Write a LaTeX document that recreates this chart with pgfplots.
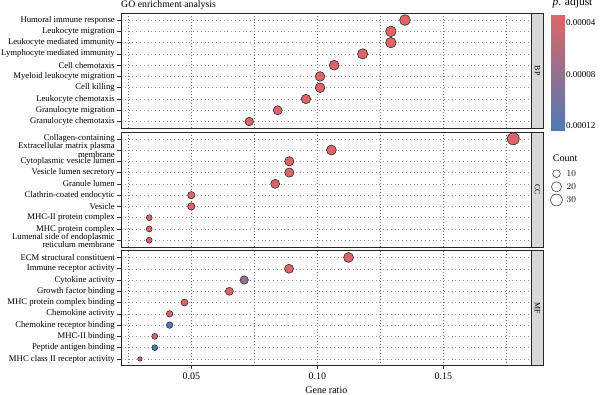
\documentclass[border=0pt]{standalone}
\usepackage{pgfplots}
\pgfplotsset{compat=1.18}
\usepackage{pgfplotstable}
\usepackage{fontspec}
\setmainfont{Liberation Serif}

\definecolor{stripfill}{RGB}{217,217,217}
\definecolor{gridgray}{RGB}{110,110,110}
\definecolor{gridlight}{RGB}{150,150,150}

% Gene ratio, gene count and adjusted p value of each GO term (row 1 is the top row)
\pgfplotstableread{
row ratio  count padj
1   0.1348 24    3.40e-5
2   0.1292 23    3.40e-5
3   0.1292 23    3.40e-5
4   0.1180 21    3.40e-5
5   0.1067 19    3.40e-5
6   0.1011 18    3.40e-5
7   0.1011 18    3.40e-5
8   0.0955 17    3.40e-5
9   0.0843 15    3.40e-5
10  0.0730 13    3.40e-5
}\bpdata

\pgfplotstableread{
row ratio  count padj
1   0.1778 32    3.40e-5
2   0.1056 19    3.40e-5
3   0.0889 16    3.40e-5
4   0.0889 16    3.40e-5
5   0.0833 15    3.40e-5
6   0.0500 9     3.40e-5
7   0.0500 9     3.40e-5
8   0.0333 6     3.40e-5
9   0.0333 6     3.40e-5
10  0.0333 6     3.40e-5
}\ccdata

\pgfplotstableread{
row ratio  count padj
1   0.1124 19    3.40e-5
2   0.0888 15    3.40e-5
3   0.0710 12    7.60e-5
4   0.0651 11    3.50e-5
5   0.0473 8     3.60e-5
6   0.0414 7     3.60e-5
7   0.0414 7     1.22e-4
8   0.0355 6     3.70e-5
9   0.0355 6     1.239e-4
10  0.0296 5     4.20e-5
}\mfdata

% Count legend keys
\pgfplotstableread{
x count
0 10
0 20
0 30
}\countkeys

\tikzset{strip/.style={fill=stripfill, draw=black!85, line width=0.8pt}}

\pgfplotsset{
  gopanel/.style={
    scale only axis, width=410.7pt, height=115pt,
    xmin=0.0221, xmax=0.1851, ymin=0.4, ymax=10.6, y dir=reverse,
    ytick={1,...,10},
    xtick={0.05,0.10,0.15},
    minor xtick={0.025,0.075,0.125,0.175},
    xmajorgrids, xminorgrids, ymajorgrids,
    x grid style={gridgray, line width=0.45pt, dash pattern=on 0.6pt off 2.4pt},
    y grid style={gridlight, line width=0.45pt, dash pattern=on 0.6pt off 3.2pt},
    minor tick length=0pt,
    tick align=outside, major tick length=3.5pt,
    xtick pos=bottom, ytick pos=left,
    tick style={black!80, line width=0.5pt},
    axis line style={black!85, line width=0.8pt},
    yticklabel style={font=\fontsize{8.7}{8.2}\selectfont, align=right, inner sep=0pt, xshift=-2.5pt},
    colormap={padj}{rgb255=(222,101,104) rgb255=(78,122,180)},
    point meta min=3.35e-5, point meta max=1.239e-4,
    clip=false,
  },
  nox/.style={xticklabels={}, xtick style={draw=none}},
  % marker radius grows with the square root of the gene count
  countsize/.style={
    visualization depends on={2.2+3.8*sqrt((\thisrow{count}-5)/27) \as \rad},
    scatter/@pre marker code/.append style={/tikz/mark size=\rad},
  },
  gopoints/.style={
    scatter, only marks, mark=*,
    scatter src=explicit,
    scatter/use mapped color={draw=black!85, fill=mapped color},
    countsize,
    mark options={line width=0.55pt},
  },
}

\begin{document}
\begin{tikzpicture}
\path (0,0) rectangle (600pt,-394pt);

\node[anchor=base west, inner sep=0pt, font=\fontsize{9.8}{11}\selectfont] at (121pt,-7.3pt) {GO enrichment analysis};

% Biological process
\begin{axis}[gopanel, nox, name=bp, at={(121pt,-13.3pt)}, anchor=north west,
  yticklabels={{Humoral immune response},{Leukocyte migration},{Leukocyte mediated immunity},{Lymphocyte mediated immunity},{Cell chemotaxis},{Myeloid leukocyte migration},{Cell killing},{Leukocyte chemotaxis},{Granulocyte migration},{Granulocyte chemotaxis}},
  colorbar,
  colorbar shift/.style={xshift=19.3pt, yshift=-1.2pt},
  colorbar style={
    at={(parent axis.north east)}, anchor=north west,
    scale only axis, width=14pt, height=116pt,
    y dir=reverse,
    scaled y ticks=false,
    ytick={4e-5,8e-5,12e-5},
    yticklabels={0.00004,0.00008,0.00012},
    yticklabel style={font=\fontsize{9}{10}\selectfont, inner sep=0pt, xshift=1pt},
    ytick style={draw=none},
    axis line style={draw=none},
  },
]
\addplot[gopoints] table[x=ratio, y=row, meta=padj] {\bpdata};
\end{axis}
\draw[strip] (bp.north east) rectangle ([xshift=11.6pt]bp.south east);
\node[rotate=-90, inner sep=0pt, font=\fontsize{8}{9}\selectfont] at ([xshift=5.8pt]bp.east) {BP};

% Cellular component
\begin{axis}[gopanel, nox, name=cc, at={(121pt,-132pt)}, anchor=north west,
  yticklabels={{Collagen-containing},{Extracellular matrix plasma\\membrane},{Cytoplasmic vesicle lumen},{Vesicle lumen secretory},{Granule lumen},{Clathrin-coated endocytic},{Vesicle},{MHC-II protein complex},{MHC protein complex},{Lumenal side of endoplasmic\\reticulum membrane}},
]
\addplot[gopoints] table[x=ratio, y=row, meta=padj] {\ccdata};
\end{axis}
\draw[strip] (cc.north east) rectangle ([xshift=11.6pt]cc.south east);
\node[rotate=-90, inner sep=0pt, font=\fontsize{8}{9}\selectfont] at ([xshift=5.8pt]cc.east) {CC};

% Molecular function
\begin{axis}[gopanel, name=mf, at={(121pt,-250.7pt)}, anchor=north west,
  yticklabels={{ECM structural constituent},{Immune receptor activity},{Cytokine activity},{Growth factor binding},{MHC protein complex binding},{Chemokine activity},{Chemokine receptor binding},{MHC-II binding},{Peptide antigen binding},{MHC class II receptor activity}},
  xticklabels={0.05,0.10,0.15},
  xticklabel style={font=\fontsize{10}{12}\selectfont, inner sep=0pt, yshift=-3pt},
  xlabel={Gene ratio},
  xlabel style={font=\fontsize{10}{12}\selectfont, at={(axis description cs:0.5,0)}, anchor=base, inner sep=0pt, yshift=-27.3pt},
]
\addplot[gopoints] table[x=ratio, y=row, meta=padj] {\mfdata};
\end{axis}
\draw[strip] (mf.north east) rectangle ([xshift=11.6pt]mf.south east);
\node[rotate=-90, inner sep=0pt, font=\fontsize{8}{9}\selectfont] at ([xshift=5.8pt]mf.east) {MF};

% Legend titles
\node[anchor=base west, inner sep=0pt, font=\fontsize{11.5}{12}\selectfont] at (552.3pt,-5.8pt) {\textit{p}. adjust};
\node[anchor=base west, inner sep=0pt, font=\fontsize{10}{12}\selectfont] at (552.7pt,-161pt) {Count};

% Count legend keys: open circles sized like the points, labelled with the count
\begin{axis}[hide axis, scale only axis, width=20pt, height=26.3pt,
  at={(556.5pt,-173.7pt)}, anchor=north west,
  xmin=0, xmax=1, ymin=10, ymax=30, y dir=reverse, clip=false]
\addplot[scatter, only marks, mark=*, scatter src=explicit,
  scatter/use mapped color={draw=black!85, fill=white},
  countsize, mark options={line width=0.5pt},
] table[x=x, y=count, meta=count] {\countkeys};
\addplot[only marks, mark=none, point meta=explicit,
  nodes near coords,
  nodes near coords style={anchor=west, xshift=10pt, inner sep=0pt, font=\fontsize{9}{10}\selectfont, text=black},
] table[x=x, y=count, meta=count] {\countkeys};
\end{axis}

\pgfresetboundingbox
\path[use as bounding box] (0,0) rectangle (600pt,-394pt);
\end{tikzpicture}
\end{document}
